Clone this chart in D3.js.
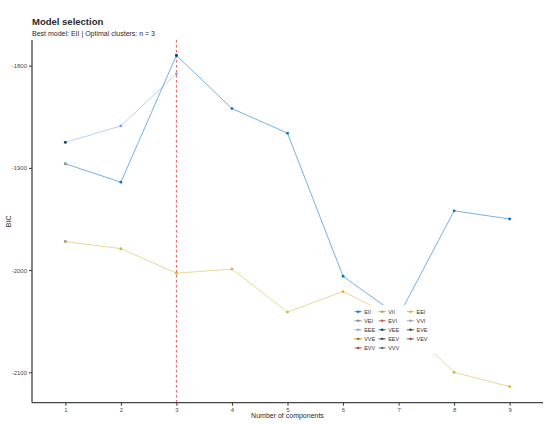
<!DOCTYPE html>
<html>
<head>
<meta charset="utf-8">
<script src="https://cdn.jsdelivr.net/npm/d3@7"></script>
<style>
  body { margin: 0; background: #fff; }
  svg { display: block; font-family: "Liberation Sans", Arial, sans-serif; }
</style>
</head>
<body>
<div id="chart"></div>
<script>
// data
var components = [1, 2, 3, 4, 5, 6, 7, 8, 9];
var models = ["EII","VII","EEI","VEI","EVI","VVI","EEE","VEE","EVE","VVE","EEV","VEV","EVV","VVV"];
var modelColors = ["#0073C2","#A5A83C","#D4B22E","#8B8488","#CD534C","#A99BC0","#7AA6DC","#123F6A","#3F3F2A","#8F7700","#3B3B3B","#A73030","#B83838","#4A6990"];
var bicEII = [-1896, -1914, -1790, -1842, -1866, -2006, -2045, -1942, -1950];
var bicVII = [-1896, null, null, null, null, null, null, null, null];
var bicEEI = [-1972, -1979, -2003, -1999, -2041, -2021, -2048, -2100, -2114];
var bicVVI = [-1972, null, null, null, null, null, null, null, null];
var bicEEE = [-1875, -1859, -1808, null, null, null, null, null, null];
var bicVEE = [-1875, null, -1790, null, null, null, null, null, null];
var yTicks = [-1800, -1900, -2000, -2100];
var bestK = 3;

var W = 550, H = 424;
var pLeft = 32, pRight = 543, pTop = 40, pBottom = 402.7;

var svg = d3.select("#chart").append("svg").attr("width", W).attr("height", H);

var x = d3.scaleLinear().domain([0.4, 9.6]).range([pLeft, pRight]);
var y = d3.scaleLinear().domain([-2129.7, -1774.9]).range([pBottom, pTop]);

var seriesData = {EII: bicEII, VII: bicVII, EEI: bicEEI, VVI: bicVVI, EEE: bicEEE, VEE: bicVEE};
var color = d3.scaleOrdinal().domain(models).range(modelColors);

// vertical line at optimal number of clusters
svg.append("line")
    .attr("x1", x(bestK)).attr("x2", x(bestK))
    .attr("y1", pTop).attr("y2", pBottom)
    .attr("stroke", "#E8474A").attr("stroke-width", 0.9)
    .attr("stroke-dasharray", "2.5,2.5");

var line = d3.line()
    .defined(function(d){ return d.v != null; })
    .x(function(d){ return x(d.k); })
    .y(function(d){ return y(d.v); });

var drawOrder = ["EEI", "EEE", "EII", "VII", "VVI", "VEE"];
drawOrder.forEach(function(m){
    var pts = components.map(function(k, i){ return {k: k, v: seriesData[m][i]}; });
    svg.append("path").datum(pts)
        .attr("d", line)
        .attr("fill", "none")
        .attr("stroke", color(m))
        .attr("stroke-opacity", m == "EII" ? 0.55 : 0.5)
        .attr("stroke-width", 1);
    svg.selectAll(null).data(pts.filter(function(d){ return d.v != null; }))
        .enter().append("circle")
        .attr("cx", function(d){ return x(d.k); })
        .attr("cy", function(d){ return y(d.v); })
        .attr("r", 1.4)
        .attr("fill", color(m));
});

// axes
var xAxis = d3.axisBottom(x).tickValues(components).tickSize(3).tickPadding(2);
var gx = svg.append("g").attr("transform", "translate(0," + pBottom + ")").call(xAxis);
gx.select(".domain").remove();
gx.selectAll("line").attr("stroke", "#333");
gx.selectAll("text").attr("fill", "#4d4d4d").style("font-size", "6px");

var yAxis = d3.axisLeft(y).tickValues(yTicks).tickSize(3).tickPadding(2)
    .tickFormat(function(d){ return String(d); });
var gy = svg.append("g").attr("transform", "translate(" + pLeft + ",0)").call(yAxis);
gy.select(".domain").remove();
gy.selectAll("line").attr("stroke", "#333");
gy.selectAll("text").attr("fill", "#4d4d4d").style("font-size", "6px");

svg.append("line").attr("x1", pLeft).attr("x2", pRight).attr("y1", pBottom).attr("y2", pBottom)
    .attr("stroke", "#444").attr("stroke-width", 1.3);
svg.append("line").attr("x1", pLeft).attr("x2", pLeft).attr("y1", pTop).attr("y2", pBottom)
    .attr("stroke", "#444").attr("stroke-width", 1.3);

// titles
svg.append("text").attr("x", 32).attr("y", 24.5)
    .style("font-size", "9.5px").style("font-weight", "bold").attr("fill", "#2a2a2a")
    .text("Model selection");
svg.append("text").attr("x", 32).attr("y", 35.5)
    .style("font-size", "7px").attr("fill", "#2a2a2a")
    .text("Best model: EII | Optimal clusters: n = 3");
svg.append("text").attr("x", (pLeft + pRight) / 2).attr("y", 418)
    .attr("text-anchor", "middle").style("font-size", "7px").attr("fill", "#2a2a2a")
    .text("Number of components");
svg.append("text")
    .attr("transform", "translate(11," + ((pTop + pBottom) / 2) + ") rotate(-90)")
    .attr("text-anchor", "middle").style("font-size", "7px").attr("fill", "#2a2a2a")
    .text("BIC");

// legend
var lg = svg.append("g");
lg.append("rect").attr("x", 349).attr("y", 305).attr("width", 87).attr("height", 49).attr("fill", "#fff");
var colX = [354.7, 378.7, 407];
models.forEach(function(m, i){
    var cx = colX[i % 3], cy = 311.7 + Math.floor(i / 3) * 9.05;
    lg.append("line").attr("x1", cx).attr("x2", cx + 7).attr("y1", cy).attr("y2", cy)
        .attr("stroke", color(m)).attr("stroke-width", 0.9);
    lg.append("circle").attr("cx", cx + 3.5).attr("cy", cy).attr("r", 1.2).attr("fill", color(m));
    lg.append("text").attr("x", cx + 9.5).attr("y", cy + 2)
        .style("font-size", "5.5px").attr("fill", "#333").text(m);
});
</script>
</body>
</html>
